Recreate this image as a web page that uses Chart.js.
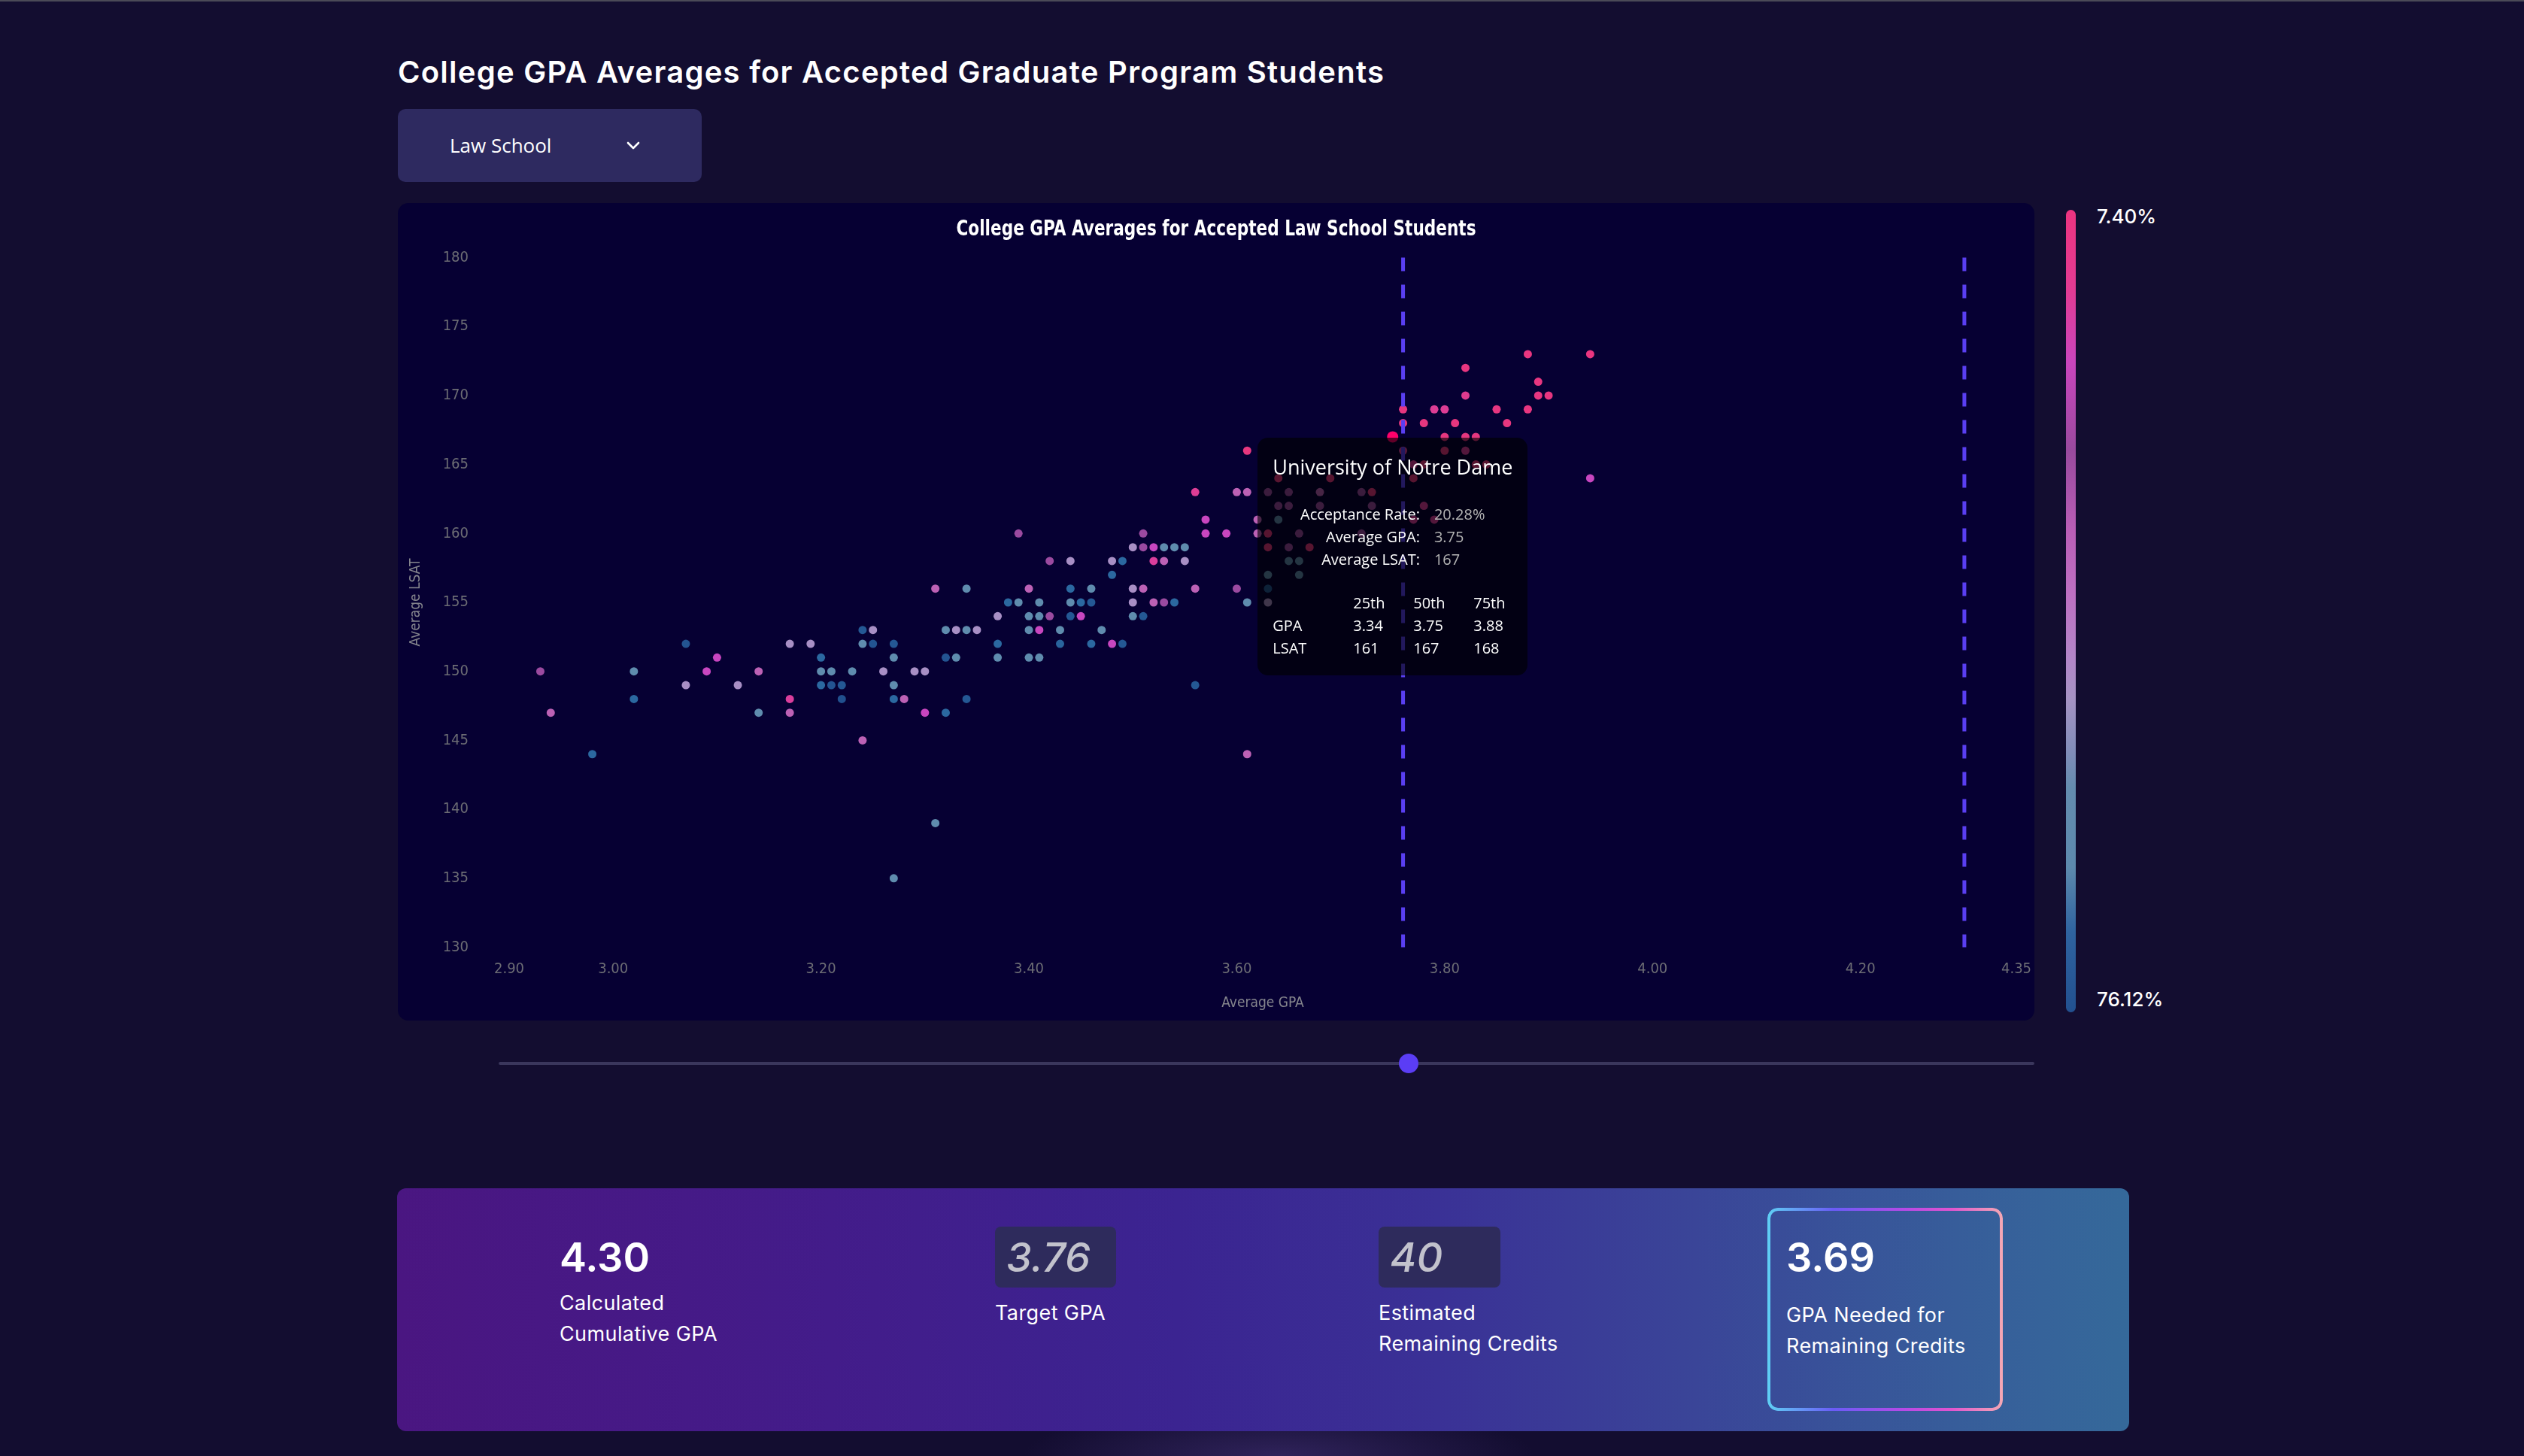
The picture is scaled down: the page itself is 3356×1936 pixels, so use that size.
<!DOCTYPE html>
<html lang="en">
<head>
<meta charset="utf-8">
<title>College GPA Averages for Accepted Graduate Program Students</title>
<script src="https://cdn.jsdelivr.net/npm/chart.js"></script>
<style>
  html, body { margin:0; padding:0; }
  body {
    width:3356px; height:1936px; position:relative; overflow:hidden;
    background: radial-gradient(ellipse 340px 70px at 1700px 1936px, rgba(70,52,125,0.55), rgba(19,13,48,0) 100%), #130d30;
    font-family: Inter, "Open Sans", sans-serif; color:#fff;
  }
  #topline { position:absolute; left:0; top:0; width:3356px; height:2px; background:#4b4a57; }
  h1 { position:absolute; left:529px; top:71.5px; margin:0; font:600 40px/48px Inter, sans-serif; letter-spacing:1.25px; color:#fff; white-space:nowrap; }
  #dropdown { position:absolute; left:529px; top:145px; width:404px; height:97px; background:#2e2a60; border-radius:10px; }
  #dropdown span { position:absolute; left:69px; top:0; line-height:97px; font-family:"Open Sans", sans-serif; font-size:26px; color:#fff; }
  #dropdown svg { position:absolute; left:303px; top:43px; }
  #card { position:absolute; left:529px; top:270px; width:2176px; height:1087px; background:#060033; border-radius:14px; }
  #card canvas { position:absolute; left:0; top:0; }
  #tip { position:absolute; display:none; width:359px; box-sizing:border-box; padding:22.5px 20px 20.8px 20px;
         background:rgba(0,0,0,0.62); border-radius:14px; font-family:"Open Sans", sans-serif; color:#fff; z-index:5; }
  #tip .tt { font-size:27px; line-height:34px; white-space:nowrap; }
  #tip table { border-collapse:collapse; font-size:20px; line-height:30px; }
  #tip td { padding:0; white-space:nowrap; }
  #tip table.kv { margin:30.7px auto 0 auto; }
  #tip table.kv td.k { text-align:right; padding-right:19px; }
  #tip table.kv td.v { text-align:left; color:#b4b4b4; }
  #tip table.pct { margin-top:28px; table-layout:fixed; width:319px; }
  #cbar { position:absolute; left:2747px; top:279px; width:13px; height:1067px; border-radius:7px;
    background:linear-gradient(180deg,#ec3480 0%,#e23b93 10%,#c945bd 19%,#b048ad 25%,#994a9e 30%,#b95eb6 40%,#bd70c2 48%,#b286c8 56%,#a593c3 61%,#818db9 67.5%,#648caf 72%,#5d89ad 82%,#2f63a0 90%,#22508f 100%); }
  .cl { position:absolute; left:2788px; font:500 26px/30px Inter, sans-serif; color:#fff; white-space:nowrap; }
  #track { position:absolute; left:663px; top:1412px; width:2042px; height:4px; background:#3a365c; border-radius:2px; }
  #thumb { position:absolute; left:1860px; top:1401px; width:26px; height:26px; border-radius:50%; background:#5b3df5; }
  #panel { position:absolute; left:528px; top:1580px; width:2303px; height:323px; border-radius:12px;
    background:linear-gradient(90deg,#4a1681 0%,#431c8a 25%,#3b2491 45%,#3a3196 60%,#3a4598 75%,#375d9a 90%,#35699a 100%); }
  .big { position:absolute; top:1645px; font:600 54px/54px Inter, sans-serif; color:#fff; white-space:nowrap; }
  .box { position:absolute; top:1631px; height:81px; background:#2e2b5c; border-radius:8px; }
  .inp { font-style:italic; color:#c2c2cc; font-weight:500; }
  .lbl { position:absolute; font:400 27px/41px Inter, sans-serif; letter-spacing:0.4px; color:#fff; white-space:nowrap; }
  #hl { position:absolute; left:2350px; top:1606px; width:313px; height:270px; border-radius:14px; }
  #hl::before { content:""; position:absolute; inset:0; border-radius:14px; padding:4px;
    background:linear-gradient(90deg,#5fd0f4 0%,#6a5cf6 28%,#b64ae6 58%,#e054cf 78%,#f4a8b4 100%);
    -webkit-mask: linear-gradient(#000 0 0) content-box, linear-gradient(#000 0 0);
    -webkit-mask-composite: xor; mask-composite: exclude; }
</style>
</head>
<body>
<div id="topline"></div>
<h1>College GPA Averages for Accepted Graduate Program Students</h1>
<div id="dropdown"><span>Law School</span>
  <svg width="20" height="12" viewBox="0 0 20 12"><polyline points="3,2 10,9 17,2" fill="none" stroke="#fff" stroke-width="2.6" stroke-linecap="round" stroke-linejoin="round"/></svg>
</div>
<div id="card"><canvas id="c" width="2176" height="1087"></canvas><div id="tip"></div></div>
<div id="cbar"></div>
<div class="cl" id="cmax" style="top:273px"></div>
<div class="cl" id="cmin" style="top:1314px"></div>
<div id="track"></div>
<div id="thumb"></div>
<div id="panel"></div>
<div class="big" id="v1" style="left:744px"></div>
<div class="lbl" style="left:744px; top:1712.4px">Calculated<br>Cumulative GPA</div>
<div class="box" style="left:1323px; width:161px"></div>
<div class="big inp" id="v2" style="left:1338px"></div>
<div class="lbl" style="left:1323px; top:1724.7px">Target GPA</div>
<div class="box" style="left:1833px; width:162px"></div>
<div class="big inp" id="v3" style="left:1848px"></div>
<div class="lbl" style="left:1833px; top:1724.7px">Estimated<br>Remaining Credits</div>
<div id="hl"></div>
<div class="big" id="v4" style="left:2375px"></div>
<div class="lbl" style="left:2375px; top:1727.7px">GPA Needed for<br>Remaining Credits</div>

<script>
// ---------- data ----------
const gpa = [
  2.93,2.94,2.98,3.02,3.02,3.07,3.07,3.09,3.10,3.12,
  3.14,3.14,3.17,3.17,3.17,3.19,3.20,3.20,3.20,3.21,
  3.21,3.22,3.22,3.23,3.24,3.24,3.24,3.25,3.25,3.26,
  3.27,3.27,3.27,3.27,3.27,3.28,3.29,3.30,3.30,3.31,
  3.31,3.32,3.32,3.32,3.33,3.33,3.34,3.34,3.34,3.35,
  3.37,3.37,3.37,3.38,3.39,3.39,3.40,3.40,3.40,3.40,
  3.41,3.41,3.41,3.41,3.42,3.42,3.43,3.43,3.44,3.44,
  3.44,3.44,3.45,3.45,3.46,3.46,3.46,3.47,3.48,3.48,
  3.48,3.49,3.49,3.50,3.50,3.50,3.50,3.51,3.51,3.51,
  3.51,3.52,3.52,3.52,3.53,3.53,3.53,3.54,3.54,3.55,
  3.55,3.56,3.56,3.56,3.57,3.57,3.59,3.60,3.60,3.61,
  3.61,3.61,3.61,3.62,3.62,3.63,3.63,3.63,3.63,3.63,
  3.63,3.64,3.64,3.64,3.65,3.65,3.65,3.65,3.66,3.66,
  3.66,3.67,3.68,3.68,3.69,3.72,3.72,3.73,3.73,3.75,
  3.76,3.76,3.76,3.77,3.77,3.77,3.78,3.78,3.78,3.79,
  3.79,3.80,3.80,3.80,3.81,3.82,3.82,3.82,3.82,3.83,
  3.83,3.84,3.85,3.86,3.88,3.88,3.89,3.89,3.90,3.94,
  3.94
];
const lsat = [
  150,147,144,150,148,152,149,150,151,149,
  150,147,152,148,147,152,151,150,149,150,
  149,149,148,150,153,152,145,153,152,150,
  152,151,149,148,135,148,150,150,147,156,
  139,153,151,147,153,151,156,153,148,153,
  154,152,151,155,160,155,156,154,153,151,
  155,154,153,151,158,154,153,152,158,156,
  155,154,155,154,156,155,152,153,158,157,
  152,158,152,159,156,155,154,160,159,156,
  154,159,158,155,159,158,155,159,155,159,
  158,163,156,149,161,160,160,163,156,166,
  163,155,144,161,160,163,160,159,157,156,
  155,164,162,161,163,162,159,158,160,158,
  157,159,163,162,164,163,160,163,162,167,
  169,168,166,165,164,161,168,165,162,169,
  161,169,167,166,168,172,170,167,166,167,
  165,165,169,168,173,169,171,170,170,173,
  164
];
const rate = [
  38,44,70,63,70,75,52,31,31,52,
  44,63,52,25,44,52,70,63,70,63,
  75,74,76.12,63,74,63,44,52,75,52,
  74,63,63,70,63,44,52,52,31,44,
  63,63,75,70,52,63,63,63,74,52,
  52,70,63,70,38,63,44,63,63,63,
  63,63,31,63,38,38,63,71,52,70,
  63,74,70,31,63,74,70,63,52,70,
  31,70,74,52,52,52,63,38,38,44,
  74,31,25,44,63,44,38,63,70,63,
  52,24,44,74,31,31,31,44,38,15,
  44,63,44,44,44,38,18,19,63,74,
  52,17,38,63,38,38,38,63,38,63,
  63,19,44,38,18,38,38,19,38,20.28,
  16,17,25,25,19,25,16,18,25,24,
  25,24,17,19,15,10.5,23,17,25,16,
  18,18,14,15,9.9,13,11.3,12.6,13.1,7.40,
  31
];
const xTicks = [2.90, 3.00, 3.20, 3.40, 3.60, 3.80, 4.00, 4.20, 4.35];
const yTicks = [130, 135, 140, 145, 150, 155, 160, 165, 170, 175, 180];

const calculatedGPA = 4.30;
const targetGPA = 3.76;
const remainingCredits = 40;
const neededGPA = 3.69;
const markerGPAs = [targetGPA, calculatedGPA];

const chartTitle = 'College GPA Averages for Accepted Law School Students';
const tipSchool = 'University of Notre Dame';
const tipGPAValue = 3.75, tipLSATValue = 167;
const tipPercentiles = ['25th', '50th', '75th'];
const tipGPA = [3.34, 3.75, 3.88];
const tipLSAT = [161, 167, 168];

// ---------- styling helpers ----------
const COLOR_STOPS = [[7.4,'#ea3580'],[21,'#e4387f'],[25,'#da3e9c'],[31,'#c846c0'],[38,'#9b4aa0'],
  [44,'#bc61b5'],[52,'#a88fc5'],[63,'#5f8cae'],[70,'#2b68a0'],[76.12,'#21508e']];
function hexToRgb(h){ return [1,3,5].map(k=>parseInt(h.substr(k,2),16)); }
function colorFor(r){
  for (let k=1;k<COLOR_STOPS.length;k++){
    const [r1,c1]=COLOR_STOPS[k-1],[r2,c2]=COLOR_STOPS[k];
    if (r<=r2 || k===COLOR_STOPS.length-1){
      const t=Math.max(0,Math.min(1,(r-r1)/(r2-r1)));
      const a=hexToRgb(c1), b=hexToRgb(c2);
      return 'rgb('+a.map((v,j)=>Math.round(v+(b[j]-v)*t)).join(',')+')';
    }
  }
}

document.getElementById('cmax').textContent = Math.min(...rate).toFixed(2)+'%';
document.getElementById('cmin').textContent = Math.max(...rate).toFixed(2)+'%';
document.getElementById('v1').textContent = calculatedGPA.toFixed(2);
document.getElementById('v2').textContent = targetGPA.toFixed(2);
document.getElementById('v3').textContent = remainingCredits;
document.getElementById('v4').textContent = neededGPA.toFixed(2);

const markerPlugin = {
  id:'gpaMarkers',
  afterDatasetsDraw(chart){
    const {ctx, chartArea:{top,bottom}, scales:{x}} = chart;
    ctx.save();
    ctx.strokeStyle = '#5a3ff2'; ctx.lineWidth = 5; ctx.setLineDash([18,18]);
    markerGPAs.forEach(v=>{
      const px = x.getPixelForValue(v);
      ctx.beginPath(); ctx.moveTo(px, top); ctx.lineTo(px, bottom); ctx.stroke();
    });
    ctx.restore();
  }
};

// narrow bold chart title (condensed horizontally, like the original narrow face)
const narrowTitlePlugin = {
  id:'narrowTitle',
  afterDraw(chart){
    const ctx = chart.ctx;
    ctx.save();
    ctx.font = "bold 29px 'DejaVu Sans Condensed','DejaVu Sans',sans-serif";
    const w = ctx.measureText(chartTitle).width;
    ctx.translate(chart.width/2, 35.5);
    ctx.scale(Math.min(1, 691/w), 1);
    ctx.fillStyle = '#ffffff';
    ctx.textAlign = 'center';
    ctx.textBaseline = 'middle';
    ctx.fillText(chartTitle, 0, 0);
    ctx.restore();
  }
};

function renderTip(context){
  const {tooltip} = context;
  const tip = document.getElementById('tip');
  if (!tooltip || tooltip.opacity === 0 || !tooltip.dataPoints || !tooltip.dataPoints.length){ tip.style.display='none'; return; }
  const i = tooltip.dataPoints[0].dataIndex;
  tip.innerHTML =
    '<div class="tt">'+tipSchool+'</div>'+
    '<table class="kv">'+
      '<tr><td class="k">Acceptance Rate:</td><td class="v">'+rate[i].toFixed(2)+'%</td></tr>'+
      '<tr><td class="k">Average GPA:</td><td class="v">'+gpa[i].toFixed(2)+'</td></tr>'+
      '<tr><td class="k">Average LSAT:</td><td class="v">'+lsat[i]+'</td></tr>'+
    '</table>'+
    '<table class="pct"><colgroup><col style="width:107px"><col style="width:80px"><col style="width:80px"><col></colgroup>'+
      '<tr><td></td>'+tipPercentiles.map(p=>'<td>'+p+'</td>').join('')+'</tr>'+
      '<tr><td>GPA</td>'+tipGPA.map(v=>'<td>'+v.toFixed(2)+'</td>').join('')+'</tr>'+
      '<tr><td>LSAT</td>'+tipLSAT.map(v=>'<td>'+v+'</td>').join('')+'</tr>'+
    '</table>';
  tip.style.display='block';
  tip.style.left = (tooltip.caretX - tip.offsetWidth/2)+'px';
  tip.style.top = (tooltip.caretY + 1)+'px';
}

Chart.defaults.font.family = "'DejaVu Sans Condensed','DejaVu Sans',sans-serif";

const chart = new Chart(document.getElementById('c'), {
  type:'scatter',
  data:{ datasets:[{
    data: gpa.map((g,i)=>({x:g, y:lsat[i]})),
    pointBackgroundColor: rate.map(colorFor),
    pointRadius:5.5, pointHoverRadius:7.5,
    pointBorderWidth:0, pointHoverBorderWidth:0
  }]},
  options:{
    responsive:false, animation:false, events:[],
    layout:{ padding:{left:0, right:24, top:72.5, bottom:0} },
    plugins:{
      legend:{display:false},
      title:{display:false},
      tooltip:{ enabled:false, external: renderTip }
    },
    scales:{
      x:{ type:'linear', min:2.9, max:4.35,
        grid:{display:false, drawTicks:false}, border:{display:false},
        afterBuildTicks: s => { s.ticks = xTicks.map(v=>({value:v})); },
        afterFit: s => { s.height = 97.5; s.paddingRight = 0; s.paddingLeft = 0; },
        ticks:{ autoSkip:false, maxRotation:0, padding:17, color:'#6c6c74', font:{size:20}, callback: v => Number(v).toFixed(2) },
        title:{ display:true, text:'Average GPA', color:'#85858d', font:{size:19}, padding:{top:0, bottom:12} } },
      y:{ type:'linear', min:130, max:180,
        grid:{display:false, drawTicks:false}, border:{display:false},
        afterBuildTicks: s => { s.ticks = yTicks.map(v=>({value:v})); },
        afterFit: s => { s.width = 148; s.paddingTop = 0; s.paddingBottom = 0; },
        ticks:{ autoSkip:false, padding:54, color:'#6c6c74', font:{size:20} },
        title:{ display:true, text:'Average LSAT', color:'#85858d', font:{size:19}, padding:{top:13, bottom:0} } }
    }
  },
  plugins:[markerPlugin, narrowTitlePlugin]
});

const hi = gpa.findIndex((g,i)=> g===tipGPAValue && lsat[i]===tipLSATValue);
const el = chart.getDatasetMeta(0).data[hi];
chart.setActiveElements([{datasetIndex:0, index:hi}]);
chart.tooltip.setActiveElements([{datasetIndex:0, index:hi}], {x:el.x, y:el.y});
chart.update();
</script>
</body>
</html>
